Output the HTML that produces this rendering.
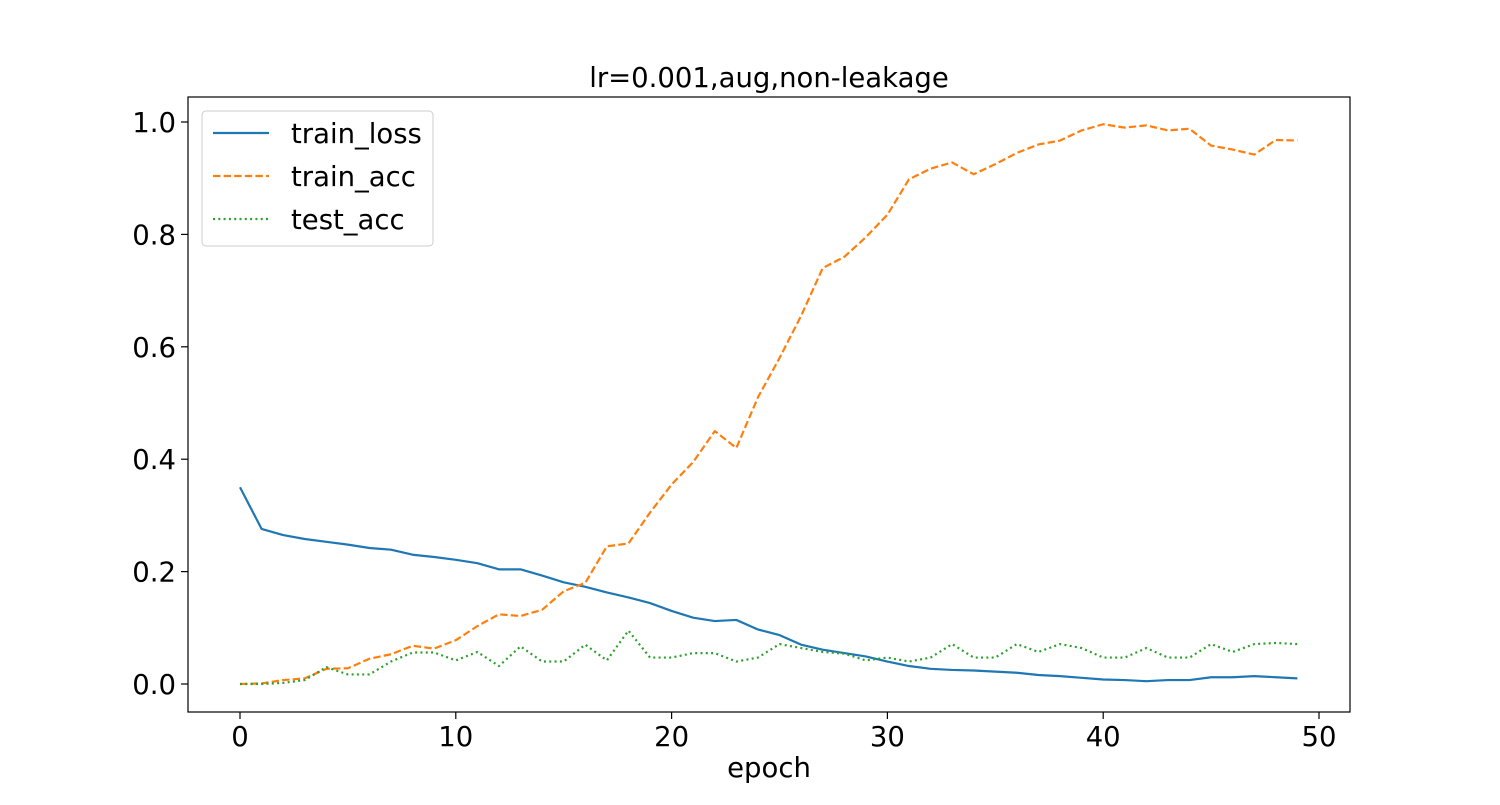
<!DOCTYPE html>
<html><head><meta charset="utf-8"><style>
body{margin:0;background:#fff;}
svg text{font-family:"DejaVu Sans","Liberation Sans",sans-serif;fill:#000;}
</style></head><body>
<svg id="chart" width="1500" height="800" viewBox="0 0 1500 800" xmlns="http://www.w3.org/2000/svg">
<rect width="1500" height="800" fill="#fff"/>
<text x="769" y="87" font-size="27.5" text-anchor="middle">lr=0.001,aug,non-leakage</text>
<g id="plot"></g>
<rect x="188" y="97" width="1162" height="615" fill="none" stroke="#000" stroke-width="1.2"/>
<text x="769" y="777" font-size="27.5" text-anchor="middle">epoch</text>
<g>
<rect x="202" y="111" width="231" height="135" rx="4" fill="#fff" fill-opacity="0.8" stroke="#ccc"/>
<g><line x1="213" y1="133" x2="269" y2="133" stroke="#1f77b4" stroke-width="2.2"/><text x="291" y="143" font-size="27.5">train_loss</text></g>
<g><line x1="213" y1="176" x2="269" y2="176" stroke="#ff7f0e" stroke-width="2.2" stroke-dasharray="7.4,3.2"/><text x="291" y="186" font-size="27.5">train_acc</text></g>
<g><line x1="213" y1="219" x2="269" y2="219" stroke="#2ca02c" stroke-width="2.2" stroke-dasharray="2,3.3"/><text x="291" y="229" font-size="27.5">test_acc</text></g>
</g>
</svg>
<script>
const epochs=[...Array(50).keys()];
const trainLoss=[0.35,0.276,0.265,0.258,0.253,0.248,0.242,0.239,0.23,0.226,0.221,0.215,0.204,0.204,0.193,0.181,0.173,0.163,0.154,0.144,0.13,0.118,0.112,0.114,0.097,0.087,0.07,0.061,0.055,0.049,0.04,0.032,0.027,0.025,0.024,0.022,0.02,0.016,0.014,0.011,0.008,0.007,0.005,0.007,0.007,0.012,0.012,0.014,0.012,0.01];
const trainAcc=[0,0.001,0.007,0.01,0.027,0.028,0.045,0.053,0.068,0.063,0.078,0.103,0.124,0.121,0.132,0.165,0.18,0.245,0.25,0.305,0.355,0.395,0.45,0.42,0.51,0.58,0.655,0.74,0.76,0.795,0.835,0.898,0.917,0.928,0.907,0.925,0.945,0.96,0.967,0.985,0.996,0.99,0.994,0.985,0.988,0.958,0.951,0.942,0.968,0.967];
const testAcc=[0,0,0.002,0.007,0.03,0.017,0.017,0.04,0.056,0.056,0.042,0.057,0.032,0.067,0.04,0.04,0.07,0.042,0.095,0.047,0.047,0.055,0.055,0.04,0.047,0.071,0.064,0.057,0.054,0.042,0.047,0.04,0.047,0.071,0.047,0.047,0.071,0.057,0.071,0.064,0.047,0.047,0.064,0.047,0.047,0.071,0.057,0.071,0.073,0.071];
const xTicks=[0,10,20,30,40,50];
const yTicks=[0,0.2,0.4,0.6,0.8,1.0];
const NS="http://www.w3.org/2000/svg";
const X=v=>240+v*(1319-240)/50;
const Y=v=>684-v*(684-122);
const g=document.getElementById('plot');
function mk(t,a){const e=document.createElementNS(NS,t);for(const k in a)e.setAttribute(k,a[k]);g.appendChild(e);return e;}
xTicks.forEach(t=>{
  const l=mk('line',{x1:X(t),x2:X(t),y1:712,y2:719,stroke:'#000','stroke-width':1.2});
  
  
  const tx=mk('text',{x:X(t),y:746,'font-size':27.5,'text-anchor':'middle'});
  tx.textContent=t;
  
  
});
yTicks.forEach(t=>{
  const l=mk('line',{x1:181,x2:188,y1:Y(t),y2:Y(t),stroke:'#000','stroke-width':1.2});
  
  
  const tx=mk('text',{x:176,y:Y(t)+10,'font-size':27.5,'text-anchor':'end'});
  tx.textContent=t.toFixed(1);
  
  
});
function series(vals,color,dash,name){
  const p=mk('polyline',{points:vals.map((v,i)=>X(epochs[i])+','+Y(v)).join(' '),fill:'none',stroke:color,'stroke-width':2.2,'stroke-linejoin':'round'});
  if(dash)p.setAttribute('stroke-dasharray',dash);
  
  
}
series(trainLoss,'#1f77b4',null,'train-loss-line');
series(trainAcc,'#ff7f0e','7.4,3.2','train-acc-line');
series(testAcc,'#2ca02c','2,3.3','test-acc-line');
</script>
</body></html>
